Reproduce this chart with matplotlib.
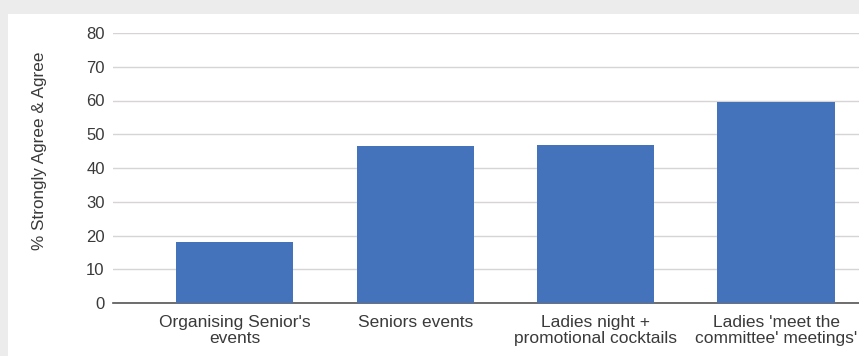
import matplotlib.pyplot as plt
from matplotlib.patches import Rectangle

# data
categories = ["Organising Senior's\nevents", "Seniors events",
              "Ladies night +\npromotional cocktails",
              "Ladies 'meet the\ncommittee' meetings'"]
values = [18, 46.5, 46.8, 59.5]
yticks = [0, 10, 20, 30, 40, 50, 60, 70, 80]

plt.rcParams['font.family'] = ['Liberation Sans', 'DejaVu Sans']

fig = plt.figure(figsize=(8.59, 3.56), dpi=100)
fig.patch.set_facecolor('#ececec')
# white card behind the chart
card = Rectangle((8 / 859, 0), 1, 1 - 14 / 356, transform=fig.transFigure,
                 facecolor='white', edgecolor='none', zorder=-10)
fig.add_artist(card)

ax = fig.add_axes([113 / 859, 1 - 303 / 356, 1 - 113 / 859, 270 / 356])
ax.set_facecolor('none')

x = list(range(len(categories)))
ax.bar(x, values, width=0.65, color='#4472bb', zorder=3)

ax.set_ylim(0, 80)
ax.set_xlim(-0.675, 3.46)
ax.set_yticks(yticks)
ax.set_xticks(x)
ax.set_xticklabels(categories, fontsize=12.5, color='#3a3a3a', linespacing=1.08)
ax.tick_params(axis='y', length=0, pad=6, labelsize=12, labelcolor='#3a3a3a')
ax.tick_params(axis='x', length=0, pad=8.5)

ax.yaxis.grid(True, color='#d8d4d4', linewidth=1)
ax.set_axisbelow(True)
for s in ['top', 'right', 'left']:
    ax.spines[s].set_visible(False)
ax.spines['bottom'].set_color('#555555')
ax.spines['bottom'].set_linewidth(1.2)

fig.text(40 / 859, 1 - 151 / 356, '% Strongly Agree & Agree', rotation=90,
         ha='center', va='center', fontsize=12.3, color='#3a3a3a')

fig.savefig('out.png', dpi=100)
